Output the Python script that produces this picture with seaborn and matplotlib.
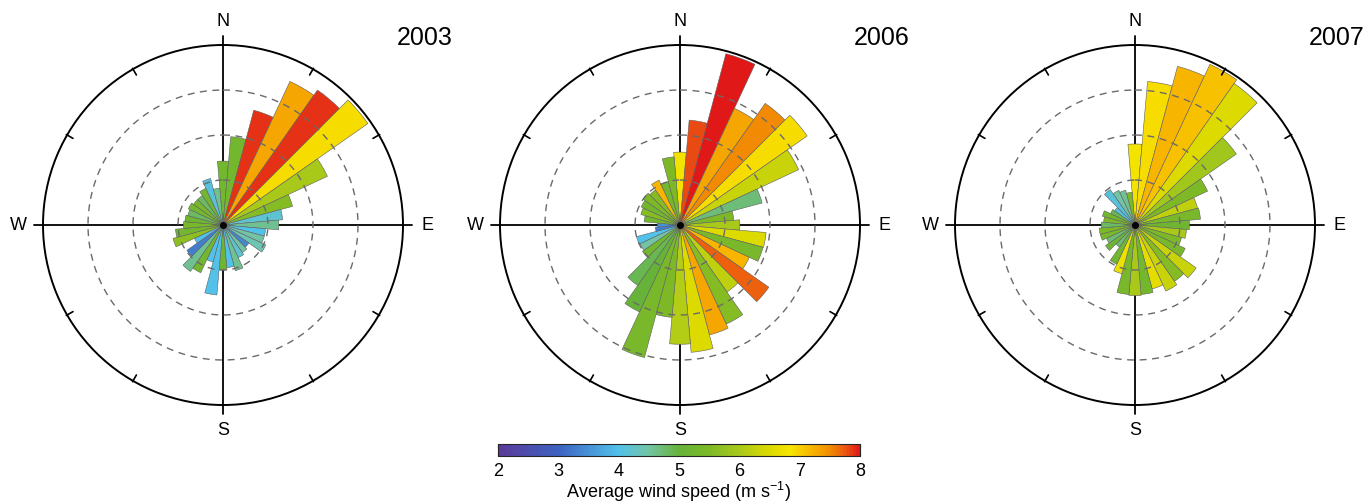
import numpy as np
import matplotlib
matplotlib.use("Agg")
import matplotlib.pyplot as plt
import seaborn as sns
from matplotlib.colors import LinearSegmentedColormap, Normalize
from matplotlib.cm import ScalarMappable

# ---------------- data ----------------
directions = np.arange(0, 360, 10)          # sector centres, degrees from N
years = ["2003", "2006", "2007"]

freq_2003 = [1.42, 1.97, 2.64, 3.52, 3.66, 3.93, 2.56, 1.60, 1.33, 1.24,
             0.95, 0.95, 1.05, 0.70, 0.75, 0.80, 1.05, 0.95, 1.00, 1.56,
             0.85, 1.17, 1.26, 0.98, 0.70, 1.15, 1.06, 0.88, 0.85, 0.81,
             0.85, 0.80, 0.80, 0.90, 1.07, 0.82]
speed_2003 = [5.3, 5.3, 7.9, 7.3, 7.9, 6.9, 6.0, 5.6, 4.2, 4.6,
              4.0, 4.5, 4.4, 3.4, 4.5, 4.2, 4.6, 4.0, 5.2, 4.0,
              4.0, 5.3, 4.6, 3.3, 4.0, 5.7, 5.3, 5.4, 5.2, 4.8,
              5.3, 5.4, 4.8, 5.3, 4.1, 4.6]

freq_2006 = [1.62, 2.34, 3.94, 2.86, 3.30, 3.45, 2.91, 1.89, 1.20, 1.33,
             1.92, 1.91, 1.70, 2.41, 1.82, 2.43, 2.53, 2.84, 2.65, 2.06,
             3.05, 2.13, 1.64, 1.02, 0.98, 1.00, 0.55, 0.50, 0.80, 0.90,
             0.95, 1.00, 0.95, 1.10, 1.00, 1.52]
speed_2006 = [6.8, 7.8, 8.0, 7.3, 7.5, 6.9, 6.3, 4.7, 5.5, 6.0,
              6.5, 5.4, 7.2, 7.7, 6.2, 5.6, 7.3, 6.5, 6.1, 5.5,
              5.4, 5.0, 4.9, 5.3, 4.5, 4.0, 3.3, 3.5, 5.3, 5.6,
              5.3, 5.5, 5.6, 7.2, 5.3, 5.5]

freq_2007 = [1.80, 3.20, 3.65, 3.94, 3.84, 2.75, 1.78, 1.44, 1.46, 1.21,
             1.15, 1.07, 1.23, 1.66, 1.53, 1.62, 1.47, 1.55, 1.57, 1.55,
             1.12, 0.96, 0.60, 0.80, 0.70, 0.80, 0.80, 0.75, 0.70, 0.75,
             0.60, 0.55, 0.96, 0.85, 0.80, 0.73]
speed_2007 = [6.8, 6.9, 7.2, 7.1, 6.5, 5.9, 5.5, 6.2, 5.4, 5.2,
              6.0, 5.5, 5.4, 6.3, 5.6, 6.3, 6.6, 5.3, 6.0, 5.4,
              6.7, 5.3, 4.7, 5.2, 4.7, 5.4, 5.5, 4.8, 5.5, 5.3,
              4.9, 4.1, 4.1, 4.5, 4.6, 5.5]

compass_labels = ["N", "E", "S", "W"]
cbar_ticks = [2, 3, 4, 5, 6, 7, 8]
cbar_label = "Average wind speed (m s$^{-1}$)"

# ---------------- style ----------------
sns.set_style("white")
plt.rcParams["font.family"] = ["Liberation Sans", "DejaVu Sans"]
plt.rcParams["text.color"] = "black"
plt.rcParams["axes.labelcolor"] = "black"
plt.rcParams["xtick.color"] = "black"
plt.rcParams["mathtext.fontset"] = "custom"
plt.rcParams["mathtext.rm"] = "Liberation Sans"

vmin, vmax = 2, 8
def pos(v):
    return (v - vmin) / (vmax - vmin)

cmap = LinearSegmentedColormap.from_list("wind", [
    (pos(2.0), "#5b3a98"), (pos(3.0), "#3c62c2"), (pos(4.0), "#52c2ea"),
    (pos(4.5), "#72c4a4"), (pos(5.0), "#66b33a"), (pos(5.5), "#7cb927"),
    (pos(6.0), "#a9c91a"), (pos(6.5), "#dcd900"), (pos(6.85), "#f7e600"),
    (pos(7.15), "#f8bb00"), (pos(7.45), "#f39500"), (pos(7.75), "#ec5a10"),
    (pos(8.0), "#e01818")])
norm = Normalize(vmin, vmax)

W, H = 1367, 502
fig = plt.figure(figsize=(W / 100, H / 100), dpi=100)

R = 180
centers_x = [223, 680, 1135]
cy = 226
freqs = [freq_2003, freq_2006, freq_2007]
speeds = [speed_2003, speed_2006, speed_2007]

th_full = np.linspace(0, 2 * np.pi, 721)
for cx, year, fr, sp in zip(centers_x, years, freqs, speeds):
    ax = fig.add_axes([(cx - R) / W, (H - cy - R) / H, 2 * R / W, 2 * R / H],
                      projection="polar")
    ax.set_theta_zero_location("N")
    ax.set_theta_direction(-1)
    ax.bar(np.deg2rad(directions), fr, width=np.deg2rad(10), bottom=0,
           color=cmap(norm(np.array(sp))), edgecolor="#5f5f5f",
           linewidth=0.4, zorder=2)
    ax.set_ylim(0, 4)
    ax.set_xticks([])
    ax.set_yticks([])
    ax.grid(False)
    ax.spines["polar"].set_linewidth(1.4)
    ax.spines["polar"].set_color("black")
    for r in (1, 2, 3):
        ax.plot(th_full, np.full_like(th_full, r), ls=(0, (5, 4)),
                color="#6a6a6a", lw=1.0, zorder=3)
    for i, ang in enumerate((0, 90, 180, 270)):
        t = np.deg2rad(ang)
        ax.plot([t, t], [0, 4.2], color="black", lw=1.3, zorder=1,
                clip_on=False)
        ax.text(t, 4.55, compass_labels[i], ha="center", va="center",
                fontsize=13, color="black")
    for ang in range(30, 360, 30):
        if ang % 90:
            t = np.deg2rad(ang)
            ax.plot([t, t], [3.85, 4.02], color="black", lw=1.2,
                    clip_on=False)
    ax.plot(0, 0, "o", color="black", ms=4, zorder=5)
    fig.text((cx + 202) / W, 1 - 38 / H, year, ha="center", va="center",
             fontsize=18, color="black")

# ---------------- colorbar ----------------
cax = fig.add_axes([498 / W, (H - 457) / H, 362 / W, 12 / H])
sm = ScalarMappable(norm=norm, cmap=cmap)
cb = fig.colorbar(sm, cax=cax, orientation="horizontal", ticks=cbar_ticks)
cb.outline.set_linewidth(0.8)
cax.tick_params(direction="in", length=3, width=0.8, labelsize=13, pad=4,
                top=True, bottom=True, colors="black")
cb.set_label(cbar_label, fontsize=13, labelpad=0, color="black")

fig.savefig("out.png", dpi=100)
